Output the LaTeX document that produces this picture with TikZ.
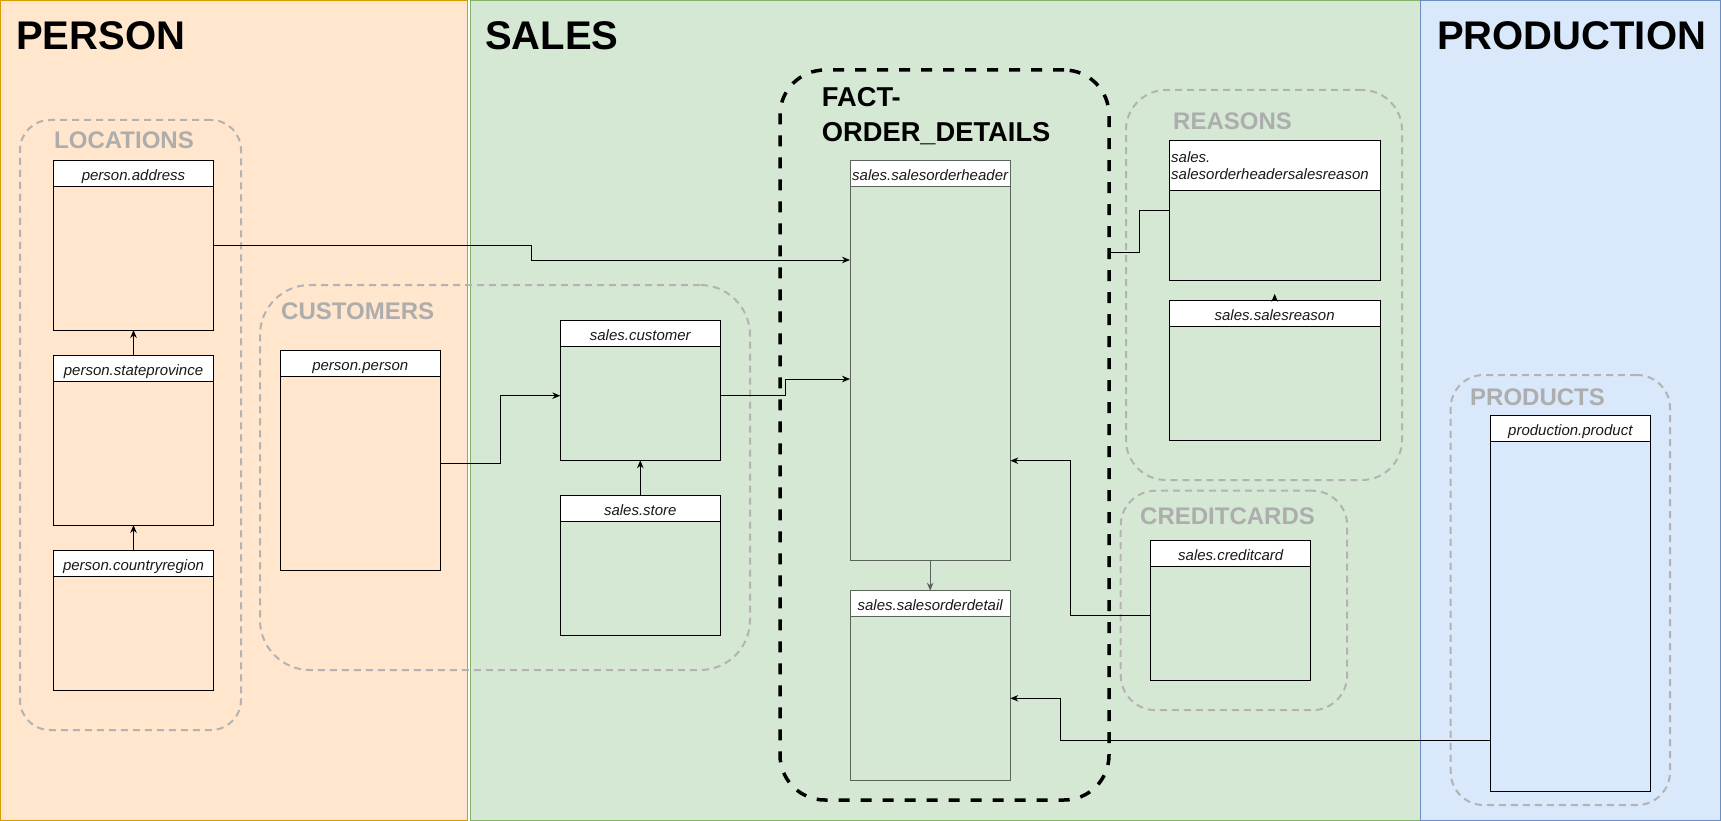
\documentclass[tikz,border=0pt]{standalone}
\usepackage{fontspec}
\setmainfont{Liberation Sans}
\usetikzlibrary{arrows.meta}
\definecolor{orfill}{HTML}{FFE6CC}
\definecolor{orline}{HTML}{D79B00}
\definecolor{grfill}{HTML}{D5E8D4}
\definecolor{grline}{HTML}{82B366}
\definecolor{blfill}{HTML}{DAE8FC}
\definecolor{blline}{HTML}{6C8EBF}
\definecolor{grpc}{HTML}{B3B3B3}
\definecolor{grptext}{HTML}{ADADAD}
\definecolor{factline}{HTML}{5A645A}
\definecolor{htext}{HTML}{1A1A1A}
\tikzset{
  panel/.style={line width=1pt, inner sep=0pt, outer sep=0pt, anchor=north west},
  title/.style={font=\fontsize{40}{48}\selectfont\bfseries, inner sep=0pt, anchor=base west},
  grp/.style={draw=grpc, line width=2pt, dash pattern=on 7pt off 5pt, rounded corners=#1, inner sep=0pt, outer sep=0pt, anchor=north west},
  grplabel/.style={font=\fontsize{24}{28}\selectfont\bfseries, text=grptext, inner sep=0pt, anchor=base west},
  factbox/.style={draw=black, line width=3.5pt, dash pattern=on 11pt off 11pt, rounded corners=45pt, inner sep=0pt, outer sep=0pt, anchor=north west},
  factlabel/.style={font=\fontsize{27.3}{34.5}\selectfont\bfseries, inner sep=0pt, anchor=base west},
  tbody/.style={draw=black, line width=1pt, inner sep=0pt, outer sep=0pt, anchor=north west},
  thead/.style={draw=black, fill=white, line width=1pt, inner sep=0pt, outer sep=0pt, anchor=north west, text=htext, font=\fontsize{15}{17.6}\selectfont\itshape},
  hshift/.style={text height=14pt, text depth=0pt},
  tfact/.style={draw=factline},
  tnorm/.style={},
  conn/.style={draw=black, line width=1pt, -{Stealth[length=8pt,width=6.5pt]}},
  plain/.style={draw=black, line width=1pt},
}
\newcommand\dbtable[8]{%
  \node[tbody, #8, minimum width=#4, minimum height=#5] (#1) at (#2,#3) {};
  \node[thead, hshift, #8, minimum width=#4, minimum height=#6] (#1-h) at (#2,#3) {#7};
}
\begin{document}
\begin{tikzpicture}[x=1pt,y=-1pt]
\useasboundingbox (0,0) rectangle (1721,821);
% panels
\node[panel, fill=orfill, draw=orline, minimum width=467, minimum height=819.5] (person) at (0.5,0.5) {};
\node[panel, fill=grfill, draw=grline, minimum width=950, minimum height=819.5] (sales) at (470,0.5) {};
\node[panel, fill=blfill, draw=blline, minimum width=300.5, minimum height=819.5] (production) at (1420,0.5) {};
\node[title] (person-t) at (16,50) {PERSON};
\node[title] (sales-t) at (485,50) {SALES};
\node[title] (production-t) at (1437,50) {PRODUCTION};
% groups
\node[grp=30pt, minimum width=221, minimum height=610] (locations) at (20,120) {};
\node[grplabel] (locations-l) at (54,149) {LOCATIONS};
\node[grp=50pt, minimum width=490, minimum height=385] (customers) at (260,285) {};
\node[grplabel] (customers-l) at (281,319) {CUSTOMERS};
\node[grp=40pt, minimum width=276, minimum height=390] (reasons) at (1126,90) {};
\node[grplabel] (reasons-l) at (1173,130) {REASONS};
\node[grp=35pt, minimum width=226.5, minimum height=219.5] (creditcards) at (1120.7,490.7) {};
\node[grplabel] (creditcards-l) at (1140,524) {CREDITCARDS};
\node[grp=33pt, minimum width=219.3, minimum height=430] (products) at (1450.7,375) {};
\node[grplabel] (products-l) at (1470,405) {PRODUCTS};
\node[factbox, minimum width=329, minimum height=730] (fact) at (780,70) {};
\node[factlabel] (fact-l1) at (821.7,107) {FACT-};
\node[factlabel] (fact-l2) at (821.7,141.5) {ORDER\_DETAILS};
% tables
\dbtable{addr}{53.5}{160.5}{160}{169.5}{26}{person.address}{tnorm}
\dbtable{state}{53.5}{355.5}{160}{169.5}{25.5}{person.stateprovince}{tnorm}
\dbtable{country}{53.5}{550}{160}{140}{26}{person.countryregion}{tnorm}
\dbtable{pperson}{280.5}{350}{159.5}{220}{26}{person.person}{tnorm}
\dbtable{cust}{560.3}{320.7}{160}{139.6}{26}{sales.customer}{tnorm}
\dbtable{store}{560.3}{495.3}{160}{140}{26}{sales.store}{tnorm}
\dbtable{soh}{850}{160.3}{160.3}{400}{26.2}{sales.salesorderheader}{tfact}
\dbtable{sod}{850}{590.7}{160.3}{189.3}{25.6}{sales.salesorderdetail}{tfact}
\dbtable{sr}{1169}{300.3}{211.3}{140}{26.4}{sales.salesreason}{tnorm}
\dbtable{cc}{1150.7}{540.7}{160}{139.6}{25.6}{sales.creditcard}{tnorm}
\dbtable{prod}{1490.3}{415.7}{160}{375.6}{26}{production.product}{tnorm}
\node[tbody, minimum width=211.3, minimum height=139.6] (shsr) at (1169,140.7) {};
\node[thead, minimum width=211.3, minimum height=49.6, text width=207pt, inner xsep=2pt, align=left] (shsr-h) at (1169,140.7) {sales.\\salesorderheadersalesreason};
% connectors
\draw[conn] (state-h.north) -- (addr.south);
\draw[conn] (country-h.north) -- (state.south);
\draw[conn] (store-h.north) -- (cust.south);
\draw[conn] (addr.east) -- (531.7,245.25) -- (531.7,260) -- (soh.west |- 0,260);
\draw[conn] (pperson.east |- 0,463) -- (500.3,463) -- (500.3,395.7) -- (cust.west |- 0,395.7);
\draw[conn] (cust.east |- 0,395.7) -- (785,395.7) -- (785,379) -- (soh.west |- 0,379);
\draw[conn, draw=factline, fill=factline] (soh.south) -- (sod-h.north);
\draw[plain] (fact.east |- 0,252.7) -- (1139.3,252.7) -- (1139.3,210.7) -- (shsr.west |- 0,210.7);
\draw[conn] (sr-h.north) -- ++(0,-6.5);
\draw[conn] (cc.west |- 0,615) -- (1070.3,615) -- (1070.3,460.7) -- (soh.east |- 0,460.7);
\draw[conn] (prod.west |- 0,740.3) -- (1060.3,740.3) -- (1060.3,698.3) -- (sod.east |- 0,698.3);
\end{tikzpicture}
\end{document}
